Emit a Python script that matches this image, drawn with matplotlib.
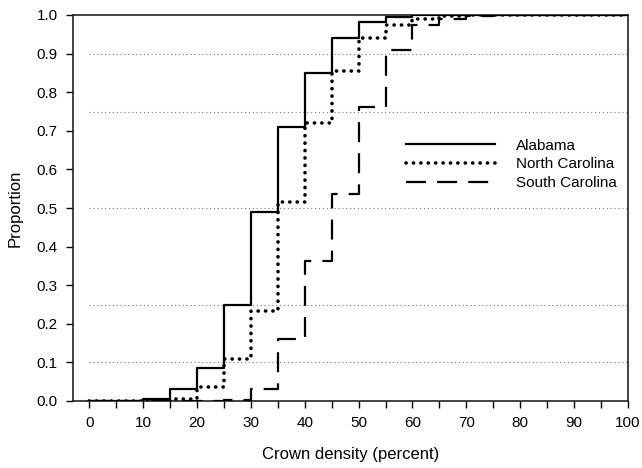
import matplotlib
matplotlib.use("Agg")
import matplotlib.pyplot as plt
import numpy as np

plt.rcParams["font.family"] = ["Liberation Sans", "DejaVu Sans"]

density = [0, 5, 10, 15, 20, 25, 30, 35, 40, 45, 50, 55, 60, 65, 70, 75, 80, 85, 90, 95, 100]
alabama = [0, 0, 0.006, 0.03, 0.085, 0.25, 0.49, 0.71, 0.85, 0.94, 0.983, 0.995, 1.0, 1.0, 1.0, 1.0, 1.0, 1.0, 1.0, 1.0, 1.0]
north_carolina = [0, 0, 0.003, 0.006, 0.035, 0.11, 0.232, 0.515, 0.72, 0.855, 0.94, 0.975, 0.99, 0.997, 1.0, 1.0, 1.0, 1.0, 1.0, 1.0, 1.0]
south_carolina = [0, 0, 0, 0, 0.001, 0.003, 0.03, 0.16, 0.362, 0.535, 0.762, 0.91, 0.975, 0.99, 0.997, 1.0, 1.0, 1.0, 1.0, 1.0, 1.0]
grid_levels = [0.1, 0.25, 0.5, 0.75, 0.9]

fig = plt.figure(figsize=(6.42, 4.68), dpi=100)
ax = fig.add_axes([73 / 642, 1 - 401 / 468, (628 - 73) / 642, (401 - 15) / 468])

ax.hlines(grid_levels, 0, 100, colors="#777777", linestyles=(0, (1, 2.5)), linewidth=0.8, zorder=1)

ax.step(density, alabama, where="post", color="black", linewidth=1.6, label="Alabama", zorder=3)
ax.step(density, north_carolina, where="post", color="black", linewidth=2.6,
        linestyle=(0, (0.05, 2.0)), dash_capstyle="round", label="North Carolina", zorder=3)
ax.step(density, south_carolina, where="post", color="black", linewidth=1.6,
        linestyle=(0, (9, 5)), label="South Carolina", zorder=3)

ax.set_xlim(-3, 100)
ax.set_ylim(0, 1.0)
ax.set_xticks(np.arange(0, 101, 10))
ax.set_xticks(np.arange(5, 100, 10), minor=True)
ax.set_yticks(np.arange(0, 1.01, 0.1))
ax.set_yticklabels([f"{v:.1f}" for v in np.arange(0, 1.01, 0.1)])
ax.tick_params(axis="both", which="both", direction="out", length=5, width=1, labelsize=11, pad=6)
for spine in ax.spines.values():
    spine.set_linewidth(1.2)
    spine.set_color("#222222")

ax.set_xlabel("Crown density (percent)", fontsize=12, labelpad=12)
ax.set_ylabel("Proportion", fontsize=12, labelpad=10)

ax.legend(loc="upper left", bbox_to_anchor=(0.6, 0.68), frameon=False, fontsize=11,
          handlelength=5.8, handletextpad=1.4, labelspacing=0.32, borderpad=0, borderaxespad=0)

fig.savefig("out.png", dpi=100, facecolor="white")
